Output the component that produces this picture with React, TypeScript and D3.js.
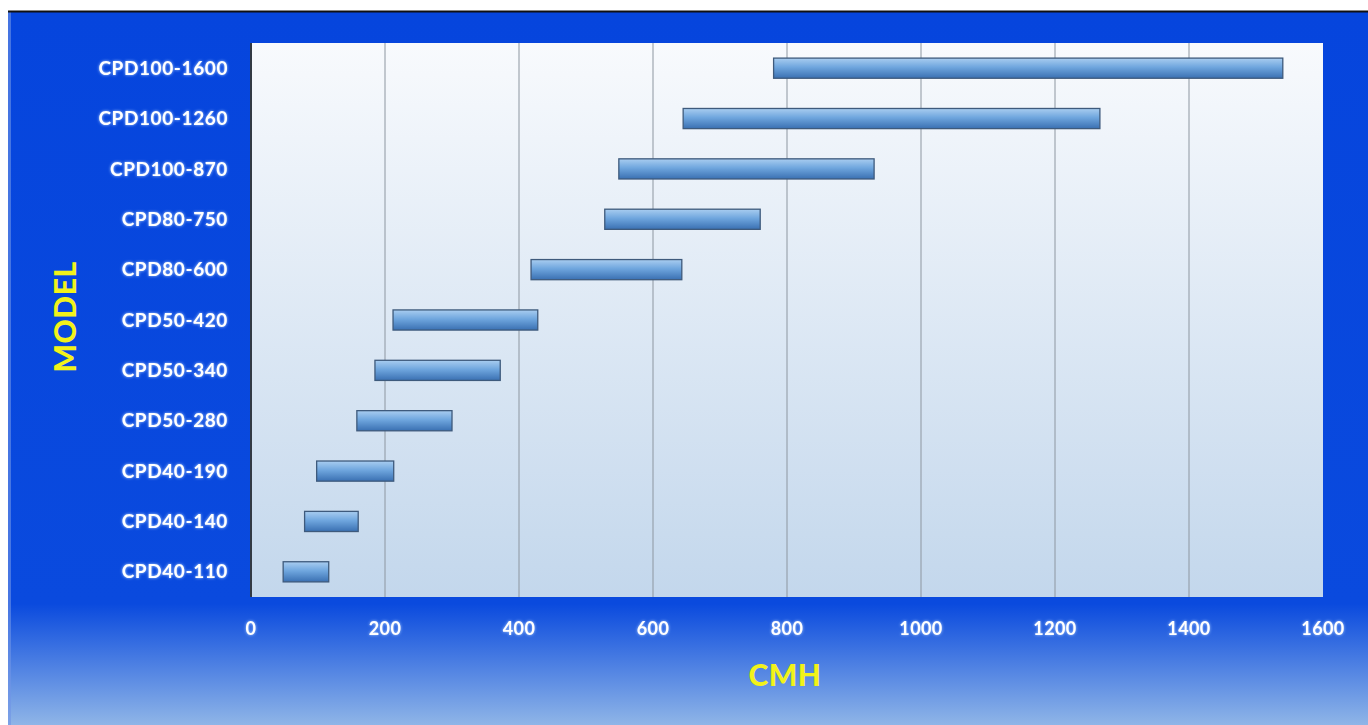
import React from "react";
import * as d3 from "d3";

// Model names, bottom to top as on the chart
var models = [
  "CPD40-110",
  "CPD40-140",
  "CPD40-190",
  "CPD50-280",
  "CPD50-340",
  "CPD50-420",
  "CPD80-600",
  "CPD80-750",
  "CPD100-870",
  "CPD100-1260",
  "CPD100-1600",
];

// flow range (CMH) for each model
var minFlow = [48, 80, 98, 158, 185, 212, 418, 528, 549, 645, 780];
var maxFlow = [116, 160, 213, 300, 372, 428, 643, 760, 930, 1267, 1540];

var xTicks = [0, 200, 400, 600, 800, 1000, 1200, 1400, 1600];

class App extends React.Component {
  constructor(props: any) {
    super(props);
    this.drawChart = this.drawChart.bind(this);
  }

  componentDidMount() {
    this.drawChart();
  }

  drawChart() {
    var width = 1368,
      height = 725;
    var plot = { left: 251, right: 1323, top: 43, bottom: 597 };
    var font = "Lato, 'Open Sans', sans-serif";

    var svg = d3
      .select("#flowChart")
      .append("svg")
      .attr("width", width)
      .attr("height", height)
      .style("display", "block");

    var defs = svg.append("defs");

    // outer background: solid blue then fading to pale blue at the bottom
    var bg = defs
      .append("linearGradient")
      .attr("id", "bgGrad")
      .attr("x1", 0)
      .attr("y1", 0)
      .attr("x2", 0)
      .attr("y2", 1);
    bg.append("stop").attr("offset", "0%").attr("stop-color", "#0645dd");
    bg.append("stop").attr("offset", "83%").attr("stop-color", "#0a4ade");
    bg.append("stop").attr("offset", "100%").attr("stop-color", "#8fb5e7");

    // plot area: near white at top to light blue at the bottom
    var pg = defs
      .append("linearGradient")
      .attr("id", "plotGrad")
      .attr("x1", 0)
      .attr("y1", 0)
      .attr("x2", 0)
      .attr("y2", 1);
    pg.append("stop").attr("offset", "0%").attr("stop-color", "#f8fafd");
    pg.append("stop").attr("offset", "100%").attr("stop-color", "#c3d7ec");

    // bars
    var barG = defs
      .append("linearGradient")
      .attr("id", "barGrad")
      .attr("x1", 0)
      .attr("y1", 0)
      .attr("x2", 0)
      .attr("y2", 1);
    barG.append("stop").attr("offset", "0%").attr("stop-color", "#a9cdf0");
    barG.append("stop").attr("offset", "45%").attr("stop-color", "#6fa6de");
    barG.append("stop").attr("offset", "100%").attr("stop-color", "#3a70b2");

    // soft glow behind the white labels
    var glow = defs.append("filter").attr("id", "glow").attr("x", "-20%").attr("y", "-40%").attr("width", "140%").attr("height", "180%");
    glow.append("feGaussianBlur").attr("in", "SourceAlpha").attr("stdDeviation", 1.4).attr("result", "blur");
    glow.append("feFlood").attr("flood-color", "#a8ccff").attr("flood-opacity", 1);
    glow.append("feComposite").attr("in2", "blur").attr("operator", "in").attr("result", "halo");
    var merge = glow.append("feMerge");
    merge.append("feMergeNode").attr("in", "halo");
    merge.append("feMergeNode").attr("in", "SourceGraphic");

    // page frame
    svg.append("rect").attr("width", width).attr("height", height).attr("fill", "#ffffff");
    svg
      .append("rect")
      .attr("x", 8)
      .attr("y", 12)
      .attr("width", width - 8)
      .attr("height", height - 12)
      .attr("fill", "url(#bgGrad)");
    svg
      .append("rect")
      .attr("x", 8)
      .attr("y", 12)
      .attr("width", 3)
      .attr("height", height - 12)
      .attr("fill", "#6f95e6")
      .attr("opacity", 0.6);
    svg
      .append("line")
      .attr("x1", 8)
      .attr("x2", width)
      .attr("y1", 11.5)
      .attr("y2", 11.5)
      .attr("stroke", "#111")
      .attr("stroke-width", 2);

    var x = d3.scaleLinear().domain([0, 1600]).range([plot.left, plot.right]);
    var y = d3
      .scaleBand()
      .domain(models.slice().reverse())
      .range([plot.top, plot.bottom])
      .paddingInner(0.6)
      .paddingOuter(0.3);

    svg
      .append("rect")
      .attr("x", plot.left)
      .attr("y", plot.top)
      .attr("width", plot.right - plot.left)
      .attr("height", plot.bottom - plot.top)
      .attr("fill", "url(#plotGrad)");

    // vertical gridlines
    svg
      .selectAll("grid")
      .data(xTicks.slice(1, -1))
      .enter()
      .append("line")
      .attr("x1", (d: any) => x(d))
      .attr("x2", (d: any) => x(d))
      .attr("y1", plot.top)
      .attr("y2", plot.bottom)
      .attr("stroke", "#8d96a0")
      .attr("stroke-width", 1);

    // left axis line
    svg
      .append("line")
      .attr("x1", plot.left)
      .attr("x2", plot.left)
      .attr("y1", plot.top)
      .attr("y2", plot.bottom)
      .attr("stroke", "#333a44")
      .attr("stroke-width", 2);

    var rows = models.map((m, i) => ({ model: m, lo: minFlow[i], hi: maxFlow[i] }));

    svg
      .selectAll("bars")
      .data(rows)
      .enter()
      .append("rect")
      .attr("x", (d: any) => x(d.lo))
      .attr("y", (d: any) => y(d.model) as number)
      .attr("width", (d: any) => x(d.hi) - x(d.lo))
      .attr("height", y.bandwidth())
      .attr("fill", "url(#barGrad)")
      .attr("stroke", "#3e5a7c")
      .attr("stroke-width", 1.3);

    // model labels
    svg
      .selectAll("ylabels")
      .data(models)
      .enter()
      .append("text")
      .text((d: any) => d)
      .attr("x", 228)
      .attr("y", (d: any) => (y(d) as number) + y.bandwidth() / 2)
      .attr("dy", "0.35em")
      .attr("text-anchor", "end")
      .attr("fill", "#ffffff")
      .attr("font-family", font)
      .attr("font-weight", "bold")
      .attr("font-size", 19)
      .attr("letter-spacing", 0.6)
      .attr("filter", "url(#glow)");

    // tick labels
    svg
      .selectAll("xlabels")
      .data(xTicks)
      .enter()
      .append("text")
      .text((d: any) => d)
      .attr("x", (d: any) => x(d))
      .attr("y", 629)
      .attr("dy", "0.35em")
      .attr("text-anchor", "middle")
      .attr("fill", "#ffffff")
      .attr("font-family", font)
      .attr("font-weight", "bold")
      .attr("font-size", 18)
      .attr("letter-spacing", 0.4)
      .attr("filter", "url(#glow)");

    // axis titles
    svg
      .append("text")
      .text("CMH")
      .attr("x", 785)
      .attr("y", 675)
      .attr("dy", "0.35em")
      .attr("text-anchor", "middle")
      .attr("fill", "#f2f21a")
      .attr("font-family", font)
      .attr("font-weight", 900)
      .attr("font-size", 30)
      .attr("letter-spacing", 0.5);

    svg
      .append("text")
      .text("MODEL")
      .attr("transform", "translate(65,317) rotate(-90)")
      .attr("dy", "0.35em")
      .attr("text-anchor", "middle")
      .attr("fill", "#f2f21a")
      .attr("font-family", font)
      .attr("font-weight", 900)
      .attr("font-size", 30)
      .attr("letter-spacing", 0.5);
  }

  render() {
    return (
      <div
        id="flowChart"
        style={{ position: "absolute", left: 0, top: 0, width: 1368, height: 725, overflow: "hidden" }}
      ></div>
    );
  }
}

export default App;
